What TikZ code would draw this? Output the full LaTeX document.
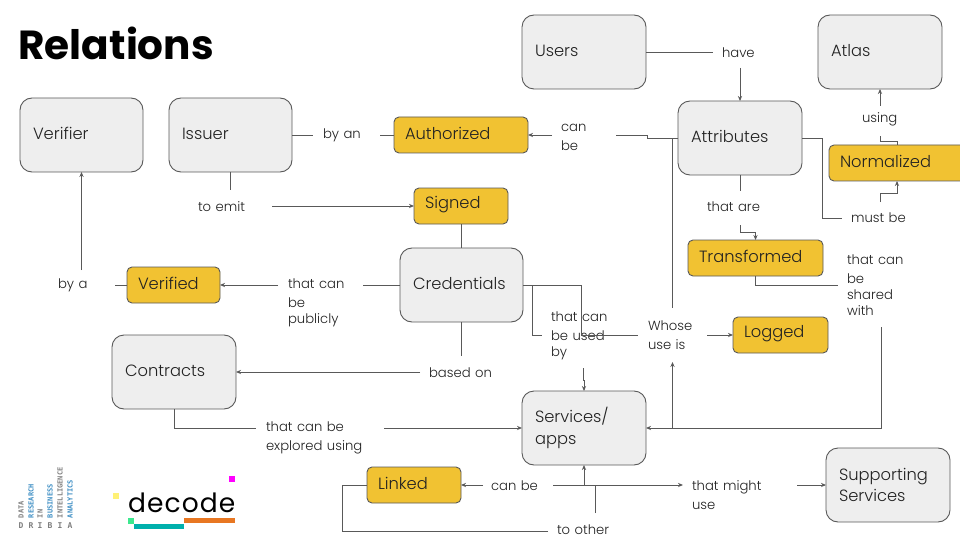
\documentclass[tikz,border=0pt]{standalone}
\usepackage{fontspec}
\setmainfont{Poppins}
\newfontfamily\lightfont{Poppins Light}
\newfontfamily\logomono{DejaVu Sans Mono}
\usetikzlibrary{arrows.meta,calc}
\definecolor{boxgray}{HTML}{EEEEEE}
\definecolor{edgegray}{HTML}{595959}
\definecolor{boxgold}{HTML}{F1C232}
\definecolor{inkc}{HTML}{222222}
\definecolor{dribiablue}{HTML}{3F8FC4}
\definecolor{dribiagray}{HTML}{7F7F7F}
\definecolor{decyellow}{HTML}{FFF176}
\definecolor{decmagenta}{HTML}{FF00FF}
\definecolor{decgreen}{HTML}{3DE88F}
\definecolor{decteal}{HTML}{00B0AC}
\definecolor{decorange}{HTML}{E87722}
\tikzset{
  base/.style={inner sep=0pt,outer sep=0pt,text=inkc,align=left},
  concept/.style={base,draw=edgegray,line width=0.9pt,fill=boxgray,rounded corners=12pt,font=\lightfont\fontsize{16.3}{18.5}\selectfont},
  quality/.style={base,draw=edgegray,line width=0.9pt,fill=boxgold,rounded corners=5pt,font=\lightfont\fontsize{16.3}{18.5}\selectfont},
  relation/.style={base,font=\lightfont\fontsize{13.2}{16}\selectfont},
  conn/.style={draw=edgegray,line width=0.9pt},
  arr/.style={conn,-{Stealth[length=5pt,width=4.2pt]}},
  dribia/.style={inner sep=0pt,outer sep=0pt,rotate=90,anchor=west,font=\logomono\bfseries\fontsize{7}{7}\selectfont},
  dribiarow/.style={inner sep=0pt,outer sep=0pt,text=dribiagray,font=\logomono\bfseries\fontsize{8}{8}\selectfont},
}
% #1 style, #2 name, #3-#6 box, #7 text inset, #8 text
\newcommand\boxat[8]{\node[#1,minimum width={(#5-#3)*1pt},minimum height={(#6-#4)*1pt},text width={(#5-#3-2*#7)*1pt}] (#2) at ({(#3+#5)/2},{(#4+#6)/2}) {\vspace*{3pt}#8};}
\begin{document}
\begin{tikzpicture}[x=1pt,y=-1pt]
\useasboundingbox (0,0) rectangle (960,540);
\node[base,anchor=base west,font=\bfseries\fontsize{40.6}{41}\selectfont,text=black] (title) at (18.5,60) {Relations};

\boxat{concept}{users}{522}{15}{646}{89}{13}{Users}
\boxat{concept}{atlas}{818}{15}{942}{89}{13}{Atlas}
\boxat{concept}{verifier}{20}{98}{143}{172}{13}{Verifier}
\boxat{concept}{issuer}{169}{98}{292}{172}{13}{Issuer}
\boxat{concept}{attributes}{678}{101}{802}{175}{13}{Attributes}
\boxat{concept}{credentials}{400}{248}{523}{322}{13}{Credentials}
\boxat{concept}{contracts}{112}{335}{236}{409}{13}{Contracts}
\boxat{concept}{services}{522}{391}{646}{465}{13}{Services/\\apps}
\boxat{concept}{supporting}{826}{448}{950}{522}{13}{Supporting\\Services}

\boxat{quality}{authorized}{394}{117}{528}{153}{11}{Authorized}
\boxat{quality}{normalized}{829}{145}{965}{181}{11}{Normalized}
\boxat{quality}{signed}{414}{188}{508}{224}{11}{Signed}
\boxat{quality}{transformed}{688}{240}{823}{276}{11}{Transformed}
\boxat{quality}{verified}{127}{267}{220}{303}{11}{Verified}
\boxat{quality}{logged}{733}{317}{828}{353}{11}{Logged}
\boxat{quality}{linked}{367}{467}{461}{503}{11}{Linked}

\boxat{relation}{have}{713}{40}{767}{68}{9}{have}
\boxat{relation}{using}{862}{106}{898}{136}{0}{using}
\boxat{relation}{mustbe}{842}{202}{918}{236}{9}{must be}
\boxat{relation}{thatare}{698}{191}{782}{225}{9}{that are}
\boxat{relation}{canbeA}{552}{120}{616}{154}{9}{can be}
\boxat{relation}{byan}{313}{120}{380}{154}{10}{by an}
\boxat{relation}{toemit}{189}{190}{272}{226}{9}{to emit}
\boxat{relation}{publicly}{278}{268}{363}{338}{10}{that can\\be\\publicly}
\boxat{relation}{bya}{48}{270}{115}{304}{10}{by a}
\boxat{relation}{basedon}{420}{356}{503}{392}{9}{based on}
\boxat{relation}{explored}{256}{420}{384}{456}{10}{that can be\\explored using}
\boxat{relation}{usedby}{542}{304}{624}{368}{9}{that can\\be used\\by}
\boxat{relation}{whose}{638}{308}{707}{362}{10}{Whose\\use is}
\boxat{relation}{shared}{838}{243}{924}{327}{9}{that can\\be\\shared\\with}
\boxat{relation}{canbeB}{483}{470}{553}{504}{8}{can be}
\boxat{relation}{mightuse}{683}{477}{797}{513}{9}{that might\\use}
\boxat{relation}{toother}{548}{513}{643}{549}{9}{to other}

% connectors
\draw[conn] (users.east) -- (have.west |- users.east);
\draw[arr] (have.south) -- (attributes.north);
\draw[arr] (using.north) -- (atlas.south);
\draw[conn] (normalized.north) -- ++(0,-4) -| (using.south);
\draw[conn] (attributes.east) -| (822,218) -- (mustbe.west |- 0,218);
\draw[arr] (mustbe.north) -- ++(0,-9) -| (normalized.south);
\draw[conn] (attributes.south) -- (thatare.north);
\draw[arr] (thatare.south) -- ++(0,7) -| (transformed.north);
\draw[conn] (transformed.south) |- (shared.west);
\draw[arr] (shared.south) |- (services.east);
\draw[arr] (whose.south |- services.east) -- (whose.south);
\draw[conn] (attributes.west) -| (whose.north);
\draw[conn] (attributes.west) -- (647.5,138) -- (647.5,135) -- (canbeA.east |- 0,135);
\draw[arr] (canbeA.west |- authorized.east) -- (authorized.east);
\draw[conn] (issuer.east |- authorized.west) -- (byan.west |- authorized.west);
\draw[conn] (byan.east |- authorized.west) -- (authorized.west);
\draw[conn] (toemit.north |- issuer.south) -- (toemit.north);
\draw[arr] (toemit.east |- signed.west) -- (signed.west);
\draw[conn] (credentials.north |- signed.south) -- (credentials.north);
\draw[conn] (credentials.west) -- (credentials.west -| publicly.east);
\draw[arr] (publicly.west |- verified.east) -- (verified.east);
\draw[conn] (verified.west) -- (bya.east |- verified.west);
\draw[arr] (bya.north) -- (verifier.south);
\draw[conn] (credentials.south) -- (basedon.north);
\draw[arr] (basedon.west |- contracts.east) -- (contracts.east);
\draw[conn] (contracts.south) |- (explored.west |- services.west);
\draw[arr] (explored.east |- services.west) -- (services.west);
\draw[conn] (credentials.east) -- (581,285) -- (581,335) -- (whose.west);
\draw[conn] (532,285) -- (532,335) -- (usedby.west |- 0,335);
\draw[arr] (usedby.south) -- ++(0,12) -- ++(1,0) -- (services.north);
\draw[arr] (whose.east) -- (logged.west);
\draw[arr] (canbeB.west |- linked.east) -- (linked.east);
\draw[arr] (canbeB.east |- linked.east) -- (mightuse.west |- linked.east);
\draw[arr] (mightuse.east |- supporting.west) -- (supporting.west);
\draw[arr] (services.south |- 0,485) -- (services.south);
\draw[conn] (toother.north) -- (595.5,485) -- (584,485);
\draw[conn] (toother.west) -- (342,531) -- (342,485) -- (linked.west);

% logos
\node[dribia,text=dribiagray] (dA) at (21,518) {DATA};
\node[dribia,text=dribiablue] (dB) at (31,518) {RESEARCH};
\node[dribia,text=dribiagray] (dC) at (40,518) {IN};
\node[dribia,text=dribiablue] (dD) at (50,518) {BUSINESS};
\node[dribia,text=dribiagray] (dE) at (60,518) {INTELLIGENCE};
\node[dribia,text=dribiablue] (dF) at (70,518) {ANALYTICS};
\node[dribiarow] (r1) at (21,526) {D};
\node[dribiarow] (r2) at (31,526) {R};
\node[dribiarow] (r3) at (40,526) {I};
\node[dribiarow] (r4) at (50,526) {B};
\node[dribiarow] (r5) at (60,526) {I};
\node[dribiarow] (r6) at (70,526) {A};
\node[inner sep=0pt,anchor=base west,text=black,font=\fontsize{26.5}{27}\selectfont\addfontfeatures{LetterSpace=4}] (decode) at (128,512) {decode};
\fill[decyellow] (113,493) rectangle (119,499);
\fill[decmagenta] (229,476) rectangle (235,482);
\fill[decgreen] (128,518) rectangle (134,523.5);
\fill[decteal] (134,524) rectangle (184,529);
\fill[decorange] (184,518) rectangle (235,523);
\end{tikzpicture}
\end{document}
